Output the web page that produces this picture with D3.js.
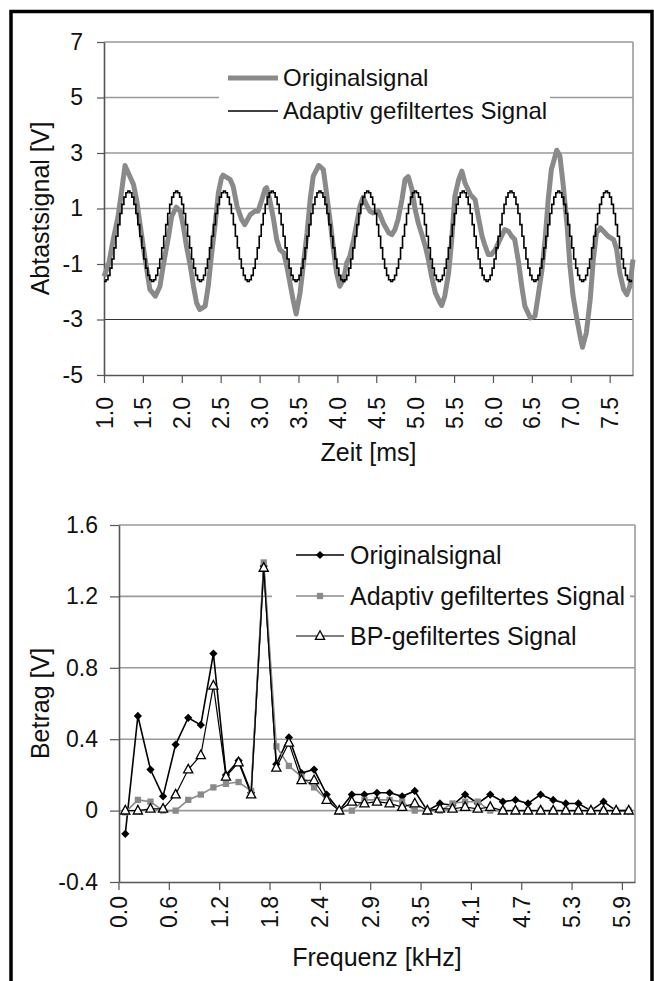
<!DOCTYPE html>
<html>
<head>
<meta charset="utf-8">
<script src="https://cdn.jsdelivr.net/npm/d3@7"></script>
<style>
  body { margin: 0; background: #fff; }
  svg text { font-family: "Liberation Sans", Arial, sans-serif; fill: #111; }
</style>
</head>
<body>
<script>
// ---- data ----

// upper chart: time signal [ms, V]
const originalSignal = [
  [1.00,-1.45],[1.06,-1.00],[1.12,-0.10],[1.18,0.70],[1.23,1.70],[1.27,2.55],[1.33,2.17],[1.38,1.86],
  [1.42,1.30],[1.46,0.50],[1.51,-0.48],[1.55,-1.20],[1.59,-1.92],[1.66,-2.16],[1.72,-1.80],[1.76,-1.08],
  [1.83,0.00],[1.87,0.72],[1.93,1.05],[1.98,0.90],[2.02,0.36],[2.06,-0.36],[2.11,-1.08],[2.15,-1.80],
  [2.19,-2.40],[2.23,-2.64],[2.30,-2.52],[2.34,-1.80],[2.38,-0.72],[2.43,0.48],[2.47,1.56],[2.51,2.10],
  [2.53,2.20],[2.62,2.05],[2.66,1.80],[2.71,1.08],[2.77,0.60],[2.81,0.42],[2.88,0.78],[2.94,0.90],
  [2.98,0.90],[3.03,1.32],[3.07,1.70],[3.09,1.75],[3.13,1.32],[3.18,0.60],[3.22,-0.12],[3.26,-0.48],
  [3.31,-0.60],[3.35,-1.08],[3.39,-1.68],[3.43,-2.28],[3.47,-2.80],[3.52,-2.04],[3.56,-1.08],[3.61,0.12],
  [3.65,1.32],[3.69,2.17],[3.76,2.55],[3.82,2.40],[3.86,1.56],[3.91,0.48],[3.95,-0.48],[3.99,-1.32],
  [4.03,-1.80],[4.08,-1.56],[4.12,-0.96],[4.16,-0.72],[4.21,-0.12],[4.25,0.48],[4.29,1.08],[4.33,1.40],
  [4.38,1.10],[4.42,0.90],[4.46,0.84],[4.53,0.90],[4.59,0.48],[4.66,0.12],[4.70,0.06],[4.74,0.24],
  [4.78,0.60],[4.83,1.32],[4.87,2.05],[4.91,2.15],[4.96,1.68],[5.00,0.96],[5.04,0.48],[5.08,0.12],
  [5.13,-0.36],[5.17,-0.84],[5.21,-1.44],[5.26,-2.04],[5.32,-2.40],[5.34,-2.50],[5.38,-2.16],[5.43,-1.32],
  [5.47,-0.12],[5.51,1.44],[5.56,2.05],[5.60,2.35],[5.64,1.92],[5.71,1.50],[5.77,1.32],[5.81,0.72],
  [5.86,0.00],[5.90,-0.36],[5.94,-0.66],[5.98,-0.66],[6.03,-0.48],[6.07,-0.24],[6.11,0.00],[6.15,0.24],
  [6.20,0.18],[6.24,0.00],[6.28,-0.12],[6.33,-0.96],[6.37,-1.80],[6.41,-2.52],[6.48,-2.94],[6.54,-2.88],
  [6.58,-2.16],[6.63,-1.20],[6.67,-0.12],[6.71,1.32],[6.75,2.40],[6.82,3.10],[6.86,2.90],[6.90,1.92],
  [6.95,0.48],[6.99,-1.08],[7.03,-2.16],[7.08,-3.00],[7.12,-3.60],[7.15,-4.00],[7.20,-3.48],[7.25,-2.28],
  [7.29,-0.84],[7.33,0.12],[7.38,0.30],[7.42,0.18],[7.48,0.00],[7.55,-0.12],[7.59,-0.48],[7.63,-1.32],
  [7.68,-1.92],[7.72,-2.10],[7.76,-1.80],[7.80,-0.84]
];

// adaptive filtered signal, one value per sample (sample hold)
const adaptiveStart = 1.0;      // ms
const adaptiveStep = 0.025583;  // ms per sample
const adaptiveSignal = [
  -1.63,-1.57,-1.41,-1.15,-0.82,-0.42,0.00,0.42,0.82,1.15,1.41,1.57,1.63,1.57,1.41,1.15,0.82,0.42,0.00,-0.42,-0.82,-1.15,-1.41,-1.57,
  -1.63,-1.57,-1.41,-1.15,-0.82,-0.42,0.00,0.42,0.82,1.15,1.41,1.57,1.63,1.57,1.41,1.15,0.82,0.42,0.00,-0.42,-0.82,-1.15,-1.41,-1.57,
  -1.63,-1.57,-1.41,-1.15,-0.82,-0.42,0.00,0.42,0.82,1.15,1.41,1.57,1.63,1.57,1.41,1.15,0.82,0.42,0.00,-0.42,-0.82,-1.15,-1.41,-1.57,
  -1.63,-1.57,-1.41,-1.15,-0.82,-0.42,0.00,0.42,0.82,1.15,1.41,1.57,1.63,1.57,1.41,1.15,0.82,0.42,0.00,-0.42,-0.82,-1.15,-1.41,-1.57,
  -1.63,-1.57,-1.41,-1.15,-0.82,-0.42,0.00,0.42,0.82,1.15,1.41,1.57,1.63,1.57,1.41,1.15,0.82,0.42,0.00,-0.42,-0.82,-1.15,-1.41,-1.57,
  -1.63,-1.57,-1.41,-1.15,-0.82,-0.42,0.00,0.42,0.82,1.15,1.41,1.57,1.63,1.57,1.41,1.15,0.82,0.42,0.00,-0.42,-0.82,-1.15,-1.41,-1.57,
  -1.63,-1.57,-1.41,-1.15,-0.82,-0.42,0.00,0.42,0.82,1.15,1.41,1.57,1.63,1.57,1.41,1.15,0.82,0.42,0.00,-0.42,-0.82,-1.15,-1.41,-1.57,
  -1.63,-1.57,-1.41,-1.15,-0.82,-0.42,0.00,0.42,0.82,1.15,1.41,1.57,1.63,1.57,1.41,1.15,0.82,0.42,0.00,-0.42,-0.82,-1.15,-1.41,-1.57,
  -1.63,-1.57,-1.41,-1.15,-0.82,-0.42,0.00,0.42,0.82,1.15,1.41,1.57,1.63,1.57,1.41,1.15,0.82,0.42,0.00,-0.42,-0.82,-1.15,-1.41,-1.57,
  -1.63,-1.57,-1.41,-1.15,-0.82,-0.42,0.00,0.42,0.82,1.15,1.41,1.57,1.63,1.57,1.41,1.15,0.82,0.42,0.00,-0.42,-0.82,-1.15,-1.41,-1.57,
  -1.63,-1.57,-1.41,-1.15,-0.82,-0.42,0.00,0.42,0.82,1.15,1.41,1.57,1.63,1.57,1.41,1.15,0.82,0.42,0.00,-0.42,-0.82,-1.15,-1.41,-1.57,
  -1.63,-1.57
];
const timeTicks = [1.0,1.5,2.0,2.5,3.0,3.5,4.0,4.5,5.0,5.5,6.0,6.5,7.0,7.5];
const voltTicks = [-5,-3,-1,1,3,5,7];

// lower chart: spectrum [kHz, V], 41 frequency bins
const freqBins = [0.00,0.15,0.29,0.44,0.59,0.74,0.88,1.03,1.18,1.32,1.47,1.62,1.76,1.91,2.06,2.21,
  2.35,2.50,2.65,2.79,2.94,3.09,3.24,3.38,3.53,3.68,3.82,3.97,4.12,4.26,4.41,4.56,4.71,4.85,5.00,5.15,
  5.29,5.44,5.59,5.74,5.88];
const freqTickLabels = ["0.0","0.6","1.2","1.8","2.4","2.9","3.5","4.1","4.7","5.3","5.9"];
const spectrumOriginal = [-0.13,0.53,0.23,0.08,0.37,0.52,0.48,0.88,0.20,0.28,0.10,1.37,0.26,0.41,0.21,0.23,
  0.09,0.00,0.09,0.09,0.10,0.10,0.08,0.11,0.00,0.04,0.03,0.09,0.04,0.09,0.05,0.06,0.04,0.09,0.06,0.04,
  0.04,0.00,0.05,0.00,0.00];
const spectrumAdaptive = [-0.01,0.06,0.05,0.00,0.00,0.06,0.09,0.13,0.15,0.16,0.11,1.39,0.36,0.25,0.19,0.13,
  0.06,0.00,0.00,0.06,0.06,0.06,0.05,0.00,0.00,0.00,0.04,0.05,0.05,0.00,0.00,0.00,0.00,0.00,0.00,0.00,
  0.00,0.00,0.00,0.00,0.00];
const spectrumBP = [0.00,0.00,0.01,0.01,0.09,0.23,0.31,0.70,0.19,0.27,0.09,1.36,0.24,0.38,0.17,0.17,
  0.06,0.00,0.05,0.04,0.05,0.04,0.02,0.04,0.00,0.01,0.01,0.02,0.01,0.02,0.00,0.00,0.00,0.00,0.00,0.00,
  0.00,0.00,0.00,0.00,0.00];
const betragTicks = [-0.4,0,0.4,0.8,1.2,1.6];

// ---- layout ----
const width = 654, height = 981;
const gray = '#8a8a8a', gridGray = '#9a9a9a', axisGray = '#555';
const tickFont = 23, titleFont = 25, legendFont = 24;

const svg = d3.select('body').append('svg')
  .attr('width', width).attr('height', height);

// outer frame (open at the bottom, cut off)
svg.append('path')
  .attr('d', 'M11,990V11.5H652V990')
  .attr('fill', 'none').attr('stroke', '#000').attr('stroke-width', 3.5);

function styleAxis(a) {
  a.select('.domain').attr('stroke', axisGray).attr('stroke-width', 1.6);
  a.selectAll('.tick line').attr('stroke', axisGray).attr('stroke-width', 1.2);
  a.selectAll('.tick text').attr('font-size', tickFont).style('fill', '#111');
}

// ================= upper chart =================
const boxT = {left: 104, right: 633, top: 42, bottom: 375};
const xT = d3.scaleLinear().domain([1.0, 7.8]).range([boxT.left, boxT.right]);
const yT = d3.scaleLinear().domain([-5, 7]).range([boxT.bottom, boxT.top]);

const gT = svg.append('g');

// gridlines
gT.selectAll('line.grid').data(voltTicks.filter(d => d !== -5)).join('line')
  .attr('x1', boxT.left).attr('x2', boxT.right)
  .attr('y1', d => yT(d)).attr('y2', d => yT(d))
  .attr('stroke', d => d === -3 ? '#333' : gridGray)
  .attr('stroke-width', d => d === -3 ? 1 : 1.6);
gT.append('line')
  .attr('x1', boxT.right).attr('x2', boxT.right).attr('y1', boxT.top).attr('y2', boxT.bottom)
  .attr('stroke', gridGray).attr('stroke-width', 1.6);

// axes
const yAxisT = gT.append('g').attr('transform', `translate(${boxT.left},0)`)
  .call(d3.axisLeft(yT).tickValues(voltTicks).tickSize(7).tickSizeOuter(0).tickPadding(14)
    .tickFormat(d => String(d)));
const xAxisT = gT.append('g').attr('transform', `translate(0,${boxT.bottom})`)
  .call(d3.axisBottom(xT).tickValues(timeTicks).tickSize(8).tickSizeOuter(0).tickFormat(d => d.toFixed(1)));
styleAxis(yAxisT);
styleAxis(xAxisT);
xAxisT.selectAll('.tick text')
  .attr('transform', 'translate(0,22) rotate(-90)')
  .attr('text-anchor', 'end').attr('dy', '0.35em').attr('x', 0).attr('y', 0);

// series
const lineOrig = d3.line().x(d => xT(d[0])).y(d => yT(d[1]));
gT.append('path').datum(originalSignal)
  .attr('d', lineOrig).attr('fill', 'none')
  .attr('stroke', gray).attr('stroke-width', 5).attr('stroke-linejoin', 'round');

const lineAdapt = d3.line()
  .x((d, i) => xT(adaptiveStart + i * adaptiveStep)).y(d => yT(d))
  .curve(d3.curveStepAfter);
gT.append('path').datum(adaptiveSignal)
  .attr('d', lineAdapt).attr('fill', 'none')
  .attr('stroke', '#000').attr('stroke-width', 1.6);

// titles
svg.append('text').attr('transform', `translate(40,${(boxT.top + boxT.bottom) / 2}) rotate(-90)`)
  .attr('text-anchor', 'middle').attr('dy', '0.35em').attr('font-size', titleFont).text('Abtastsignal [V]');
svg.append('text').attr('x', (boxT.left + boxT.right) / 2).attr('y', 461)
  .attr('text-anchor', 'middle').attr('font-size', titleFont).text('Zeit [ms]');

// legend
const legT = svg.append('g');
legT.append('rect').attr('x', 219).attr('y', 56).attr('width', 331).attr('height', 74).attr('fill', '#fff');
const legTItems = [
  {label: 'Originalsignal', color: gray, w: 5, y: 78},
  {label: 'Adaptiv gefiltertes Signal', color: '#000', w: 1.6, y: 111}
];
legTItems.forEach(it => {
  legT.append('line').attr('x1', 228).attr('x2', 278).attr('y1', it.y).attr('y2', it.y)
    .attr('stroke', it.color).attr('stroke-width', it.w);
  legT.append('text').attr('x', 283).attr('y', it.y).attr('dy', '0.35em')
    .attr('font-size', legendFont).text(it.label);
});

// ================= lower chart =================
const boxB = {left: 119, right: 635, top: 525, bottom: 882};
// category axis: each bin gets a slot, points in the slot centre, ticks on slot edges
const xB = d3.scaleBand().domain(freqBins).range([boxB.left, boxB.right]).padding(0);
const xMid = d => xB(d) + xB.bandwidth() / 2;
const yB = d3.scaleLinear().domain([-0.4, 1.6]).range([boxB.bottom, boxB.top]);

const gB = svg.append('g');
gB.selectAll('line.grid').data(betragTicks.filter(d => d > -0.4)).join('line')
  .attr('x1', boxB.left).attr('x2', boxB.right)
  .attr('y1', d => yB(d)).attr('y2', d => yB(d))
  .attr('stroke', gridGray).attr('stroke-width', 1.6);
gB.append('line')
  .attr('x1', boxB.right).attr('x2', boxB.right).attr('y1', boxB.top).attr('y2', boxB.bottom)
  .attr('stroke', gridGray).attr('stroke-width', 1.6);

const yAxisB = gB.append('g').attr('transform', `translate(${boxB.left},0)`)
  .call(d3.axisLeft(yB).tickValues(betragTicks).tickSize(9).tickSizeOuter(0).tickPadding(12)
    .tickFormat(d => d === 0 ? '0' : d.toFixed(1)));
const xAxisB = gB.append('g').attr('transform', `translate(0,${boxB.bottom})`)
  .call(d3.axisBottom(xB).tickValues(freqBins.filter((d, i) => i % 4 === 0)).tickSize(8).tickSizeOuter(0)
    .tickFormat((d, i) => freqTickLabels[i]));
// move ticks from band centre to band start
xAxisB.selectAll('.tick').attr('transform', d => `translate(${xB(d)},0)`);
styleAxis(yAxisB);
styleAxis(xAxisB);
xAxisB.selectAll('.tick text')
  .attr('transform', 'translate(0,14) rotate(-90)')
  .attr('text-anchor', 'end').attr('dy', '0.35em').attr('x', 0).attr('y', 0);

// marker shapes
const diamond = d3.symbol().type(d3.symbolSquare).size(34)();
const square = d3.symbol().type(d3.symbolSquare).size(40)();
const triangle = 'M0,-5.2L4.6,3.4L-4.6,3.4Z';

const specSeries = [
  {name: 'Originalsignal', values: spectrumOriginal, stroke: '#000', lw: 1.6,
   marker: diamond, rot: 45, fill: '#000', mstroke: 'none'},
  {name: 'Adaptiv gefiltertes Signal', values: spectrumAdaptive, stroke: gray, lw: 1.6,
   marker: square, rot: 0, fill: gray, mstroke: 'none'},
  {name: 'BP-gefiltertes Signal', values: spectrumBP, stroke: '#000', lw: 1.2,
   marker: triangle, rot: 0, fill: '#fff', mstroke: '#000'}
];

const lineSpec = d3.line().x((d, i) => xMid(freqBins[i])).y(d => yB(d));
specSeries.forEach(s => {
  const g = gB.append('g');
  g.append('path').datum(s.values).attr('d', lineSpec).attr('fill', 'none')
    .attr('stroke', s.stroke).attr('stroke-width', s.lw);
  g.selectAll('path.m').data(s.values).join('path')
    .attr('d', s.marker)
    .attr('transform', (d, i) => `translate(${xMid(freqBins[i])},${yB(d)}) rotate(${s.rot})`)
    .attr('fill', s.fill).attr('stroke', s.mstroke).attr('stroke-width', 1.3);
});

svg.append('text').attr('transform', `translate(40,${(boxB.top + boxB.bottom) / 2}) rotate(-90)`)
  .attr('text-anchor', 'middle').attr('dy', '0.35em').attr('font-size', titleFont).text('Betrag [V]');
svg.append('text').attr('x', (boxB.left + boxB.right) / 2).attr('y', 966)
  .attr('text-anchor', 'middle').attr('font-size', titleFont).text('Frequenz [kHz]');

// legend
const legB = svg.append('g');
legB.append('rect').attr('x', 272).attr('y', 538).attr('width', 358).attr('height', 118).attr('fill', '#fff');
const legBY = [555, 596, 636];
specSeries.forEach((s, k) => {
  const y = legBY[k];
  legB.append('line').attr('x1', 296).attr('x2', 344).attr('y1', y).attr('y2', y)
    .attr('stroke', s.stroke).attr('stroke-width', s.lw);
  legB.append('path').attr('d', s.marker)
    .attr('transform', `translate(320,${y}) rotate(${s.rot})`)
    .attr('fill', s.fill).attr('stroke', s.mstroke).attr('stroke-width', 1.3);
  legB.append('text').attr('x', 350).attr('y', y).attr('dy', '0.35em')
    .attr('font-size', 25).text(s.name);
});
</script>
</body>
</html>
